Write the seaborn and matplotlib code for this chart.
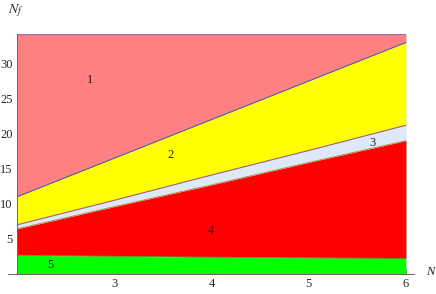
import numpy as np
import seaborn as sns
import matplotlib.pyplot as plt
from matplotlib.ticker import MultipleLocator

# boundaries, N_f as function of N
N = [2, 3, 4, 5, 6]
upper_bound = [11.0, 16.5, 22.0, 27.5, 33.0]
band_top = [7.0, 10.5, 14.1, 17.6, 21.2]
band_bottom = [6.43, 9.6, 12.7, 15.9, 19.0]
green_top = [2.67, 2.52, 2.39, 2.3, 2.2]

region_labels = ["1", "2", "3", "4", "5"]
label_x = [2.75, 3.58, 5.66, 3.99, 2.34]
label_y = [27.7, 17.0, 18.6, 6.1, 1.3]

ymax = 34.2

sns.set_style("ticks")
plt.rcParams['font.family'] = ['Liberation Serif', 'DejaVu Serif']
plt.rcParams['mathtext.fontset'] = 'stix'

fig = plt.figure(figsize=(4.36, 2.94), dpi=100)
ax = fig.add_axes([17 / 436, 20 / 294, 389 / 436, 240 / 294])

top = [ymax] * len(N)
zero = [0] * len(N)
ax.fill_between(N, upper_bound, top, color="#ff8080", lw=0)
ax.fill_between(N, band_top, upper_bound, color="#ffff00", lw=0)
ax.fill_between(N, band_bottom, band_top, color="#dde9f7", lw=0)
ax.fill_between(N, green_top, band_bottom, color="#ff0000", lw=0)
ax.fill_between(N, zero, green_top, color="#00ff00", lw=0)

sns.lineplot(x=N, y=top, color="#9a6fb0", lw=1.0, ax=ax)
sns.lineplot(x=N, y=upper_bound, color="#5a5aa8", lw=0.8, ax=ax)
sns.lineplot(x=N, y=band_top, color="#a05a8a", lw=0.8, ax=ax)
sns.lineplot(x=N, y=band_bottom, color="#a08a40", lw=0.6, ax=ax)
sns.lineplot(x=N, y=green_top, color="#40b040", lw=0.6, ax=ax)

for t, x, y in zip(region_labels, label_x, label_y):
    ax.text(x, y, t, fontsize=9, ha="center", va="center", color="#222222")

ax.set_xlim(2, 6)
ax.set_ylim(0, ymax)
ax.xaxis.set_major_locator(MultipleLocator(1))
ax.xaxis.set_minor_locator(MultipleLocator(0.2))
ax.yaxis.set_major_locator(MultipleLocator(5))
ax.yaxis.set_minor_locator(MultipleLocator(1))
ax.set_xticks([3, 4, 5, 6])
ax.set_yticks([5, 10, 15, 20, 25, 30])
ax.tick_params(which="both", direction="in", color="#666666", labelsize=9, pad=3)
ax.tick_params(which="major", length=3.5, width=0.6)
ax.tick_params(which="minor", length=2, width=0.5)
sns.despine(ax=ax)
for s in ["left", "bottom"]:
    ax.spines[s].set_color("#666666")
    ax.spines[s].set_linewidth(0.7)
    ax.spines[s].set_zorder(5)
# axis line runs a little past the plot range, as in the original
ax.plot([-0.022, 1.02], [0, 0], transform=ax.transAxes, color="#666666",
        lw=0.7, clip_on=False, zorder=5)

fig.text(430 / 436, 1 - 272 / 294, "N", fontsize=9, style="italic", ha="center", va="center")
fig.text(16 / 436, 1 - 11 / 294, "$N_f$", fontsize=10, ha="center", va="center")

fig.savefig("out.png", dpi=100)
